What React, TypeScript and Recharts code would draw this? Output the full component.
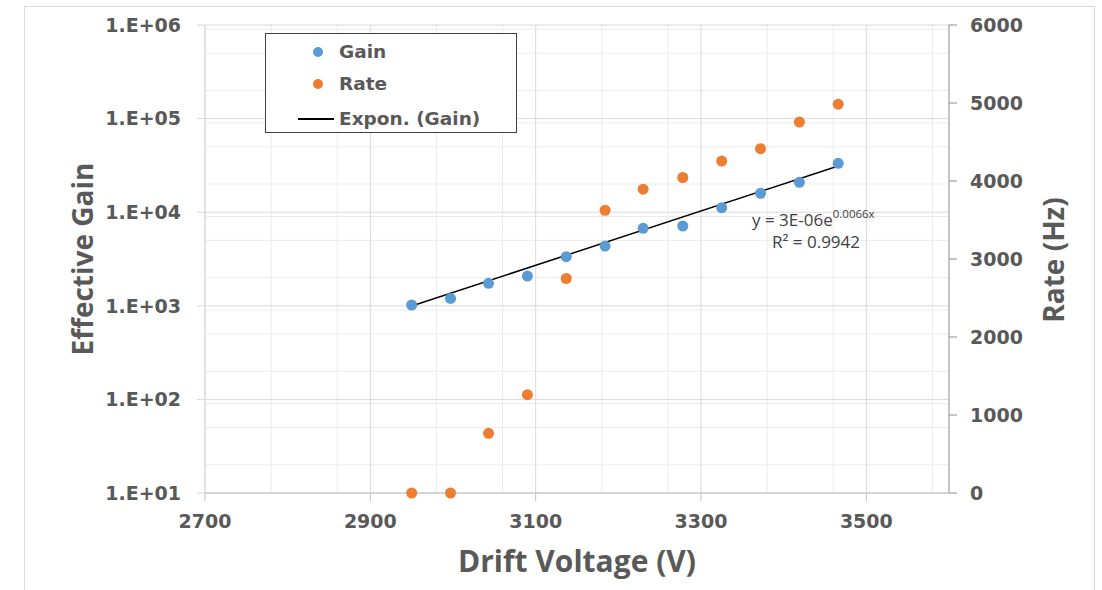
import React from 'react';
import { ComposedChart, Scatter, Line, XAxis, YAxis, CartesianGrid, Label } from 'recharts';

// drift voltage (V) of each measurement
const voltage = [2950, 2997, 3043, 3090, 3137, 3184, 3230, 3278, 3325, 3372, 3419, 3466];
// effective gain, left log axis
const gain = [1020, 1200, 1740, 2080, 3350, 4350, 6730, 7120, 11170, 15920, 20860, 33240];
// counting rate (Hz), right axis
const rate = [0, 0, 765, 1260, 2750, 3625, 3895, 4045, 4255, 4415, 4755, 4985];
// exponential fit end points (straight on a log axis)
const trendVoltage = [2950, 3466];
const trendGain = [995, 31200];

const voltageTicks = [2700, 2900, 3100, 3300, 3500];
const gainTicks = [10, 100, 1000, 10000, 100000, 1000000];
const rateTicks = [0, 1000, 2000, 3000, 4000, 5000, 6000];

const gainData = voltage.map((v, i) => ({ v, g: gain[i] }));
const rateData = voltage.map((v, i) => ({ v, r: rate[i] }));
const trendData = trendVoltage.map((v, i) => ({ v, t: trendGain[i] }));

// excel style minor grid
const minorX: number[] = [];
for (let v = 2740; v < 3600; v += 40) if ((v - 2700) % 200 !== 0) minorX.push(v);
const minorY: number[] = [];
for (let d = 10; d < 1000000; d *= 10) for (let k = 2; k <= 9; k++) minorY.push(k * d);

const TEXT = '#595959';
const tickFont = { fontFamily: 'DejaVu Sans', fontWeight: 'bold', fontSize: 19, fill: TEXT };
const titleFont = { fontFamily: 'Open Sans', fontWeight: 'bold', fontSize: 28, fill: TEXT };

const fmtGain = (v: number) => '1.E+' + String(Math.round(Math.log10(v))).padStart(2, '0');

const Dot = (color: string) => (p: any) => (
  <circle cx={p.cx} cy={p.cy} r={5.5} fill={color} />
);

const App = () => {
  return (
    <div style={{ position: 'absolute', left: 0, top: 0, width: 1102, height: 590, background: '#fff', overflow: 'hidden' }}>
      <div style={{ position: 'absolute', left: 24, top: 6, width: 1069, height: 620, border: '1px solid #d9d9d9' }} />
      <div style={{ position: 'absolute', left: 0, top: 0 }}>
        <ComposedChart width={1102} height={590} margin={{ top: 25, right: 0, bottom: 0, left: 0 }}>
          <CartesianGrid stroke="#ebebeb" verticalValues={minorX} horizontalValues={minorY} />
          <CartesianGrid stroke="#d9d9d9" verticalValues={voltageTicks} horizontalValues={gainTicks} />
          <XAxis
            type="number"
            dataKey="v"
            domain={[2700, 3600]}
            ticks={voltageTicks}
            height={97}
            stroke="#bfbfbf"
            tickSize={8}
            tickMargin={14}
            tick={tickFont}
          >
            <Label
              content={() => (
                <text x={577} y={572} textAnchor="middle" {...titleFont} fontSize={30}>
                  Drift Voltage (V)
                </text>
              )}
            />
          </XAxis>
          <YAxis
            scale="log"
            domain={[10, 1000000]}
            allowDataOverflow
            ticks={gainTicks}
            tickFormatter={fmtGain}
            width={205}
            stroke="#d9d9d9"
            tickSize={8}
            tickMargin={16}
            tick={tickFont}
          >
            <Label
              content={() => (
                <text x={82} y={259} transform="rotate(-90 82 259)" textAnchor="middle" dominantBaseline="central" {...titleFont}>
                  Effective Gain
                </text>
              )}
            />
          </YAxis>
          <YAxis
            yAxisId="right"
            orientation="right"
            domain={[0, 6000]}
            ticks={rateTicks}
            width={153}
            stroke="#8c8c8c"
            tickSize={8}
            tickMargin={13}
            tick={tickFont}
          >
            <Label
              content={() => (
                <text x={1053} y={260} transform="rotate(-90 1053 260)" textAnchor="middle" dominantBaseline="central" {...titleFont}>
                  Rate (Hz)
                </text>
              )}
            />
          </YAxis>
          <Scatter name="Gain" data={gainData} dataKey="g" shape={Dot('#5b9bd5')} isAnimationActive={false} />
          <Scatter name="Rate" data={rateData} dataKey="r" yAxisId="right" shape={Dot('#ed7d31')} isAnimationActive={false} />
          <Line
            name="Expon. (Gain)"
            data={trendData}
            dataKey="t"
            stroke="#000"
            strokeWidth={1.5}
            dot={false}
            activeDot={false}
            isAnimationActive={false}
          />
        </ComposedChart>
      </div>
      <svg style={{ position: 'absolute', left: 0, top: 0 }} width={1102} height={590}>
        <text x={752} y={226} fontFamily="Open Sans" fontSize={17} fill="#404040">
          y = 3E-06e<tspan fontSize={11.5} dy={-8}>0.0066x</tspan>
        </text>
        <text x={772} y={248} fontFamily="Open Sans" fontSize={17} fill="#404040">
          R² = 0.9942
        </text>
      </svg>
      <div
        style={{
          position: 'absolute',
          left: 265,
          top: 33,
          width: 250,
          height: 98,
          border: '1px solid #404040',
          background: '#fff',
          fontFamily: 'DejaVu Sans',
          fontWeight: 'bold',
          fontSize: 18.5,
          color: TEXT,
        }}
      >
        {[
          { name: 'Gain', color: '#5b9bd5', y: 18 },
          { name: 'Rate', color: '#ed7d31', y: 50 },
        ].map((it) => (
          <div key={it.name} style={{ position: 'absolute', left: 0, top: it.y - 12, height: 24, display: 'flex', alignItems: 'center' }}>
            <span style={{ position: 'absolute', left: 47, width: 10, height: 10, borderRadius: 5, background: it.color, top: 7 }} />
            <span style={{ position: 'absolute', left: 73, lineHeight: '24px', top: 0 }}>{it.name}</span>
          </div>
        ))}
        <div style={{ position: 'absolute', left: 32, top: 84, width: 36, height: 1.5, background: '#000' }} />
        <span style={{ position: 'absolute', left: 73, top: 73, lineHeight: '24px', whiteSpace: 'nowrap' }}>Expon. (Gain)</span>
      </div>
    </div>
  );
};

export default App;
